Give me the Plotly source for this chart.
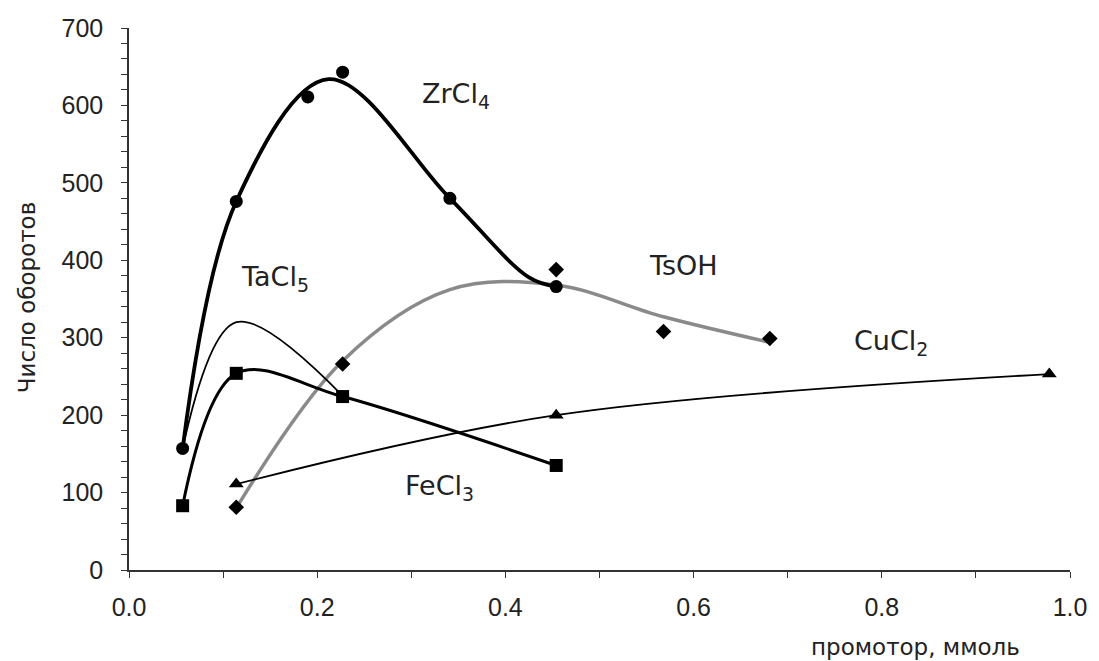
import plotly.graph_objects as go

# ---- data ----
ZR_X = [0.057, 0.114, 0.19, 0.227, 0.341, 0.454]
ZR_Y = [157, 476, 611, 643, 480, 366]
ZR_CURVE_X = [0.057, 0.114, 0.212, 0.341, 0.425, 0.454]
ZR_CURVE_Y = [157, 476, 634, 480, 378, 366]

TA_X = [0.057, 0.114, 0.227]
TA_Y = [157, 320, 225]

FE_X = [0.057, 0.114, 0.227, 0.454]
FE_Y = [83, 254, 224, 135]

CU_X = [0.114, 0.454, 0.978]
CU_Y = [111, 200, 253]

TS_X = [0.114, 0.227, 0.454, 0.568, 0.681]
TS_Y = [81, 266, 388, 308, 299]
TS_CURVE_X = [0.114, 0.227, 0.341, 0.454, 0.568, 0.681]
TS_CURVE_Y = [80, 270, 362, 368, 327, 294]

LABELS = ["ZrCl<sub>4</sub>", "TaCl<sub>5</sub>", "TsOH", "CuCl<sub>2</sub>", "FeCl<sub>3</sub>"]
LABEL_X = [0.309, 0.117, 0.551, 0.768, 0.291]
LABEL_Y = [613, 376, 393, 294, 106]

X_TITLE = "промотор, ммоль"
Y_TITLE = "Число оборотов"

FONT = "Liberation Sans, Arial, sans-serif"
WIDE = "DejaVu Sans, Liberation Sans, sans-serif"

fig = go.Figure()

# TsOH gray smoothed curve
fig.add_trace(go.Scatter(x=TS_CURVE_X, y=TS_CURVE_Y, mode="lines",
                         line=dict(color="#8a8a8a", width=3.5, shape="spline"),
                         hoverinfo="skip"))
# CuCl2
fig.add_trace(go.Scatter(x=CU_X, y=CU_Y, mode="lines+markers",
                         line=dict(color="black", width=1.8, shape="spline"),
                         marker=dict(symbol="triangle-up", size=13, color="black")))
# TaCl5 thin line
fig.add_trace(go.Scatter(x=TA_X, y=TA_Y, mode="lines",
                         line=dict(color="black", width=1.8, shape="spline")))
# FeCl3
fig.add_trace(go.Scatter(x=FE_X, y=FE_Y, mode="lines+markers",
                         line=dict(color="black", width=3, shape="spline"),
                         marker=dict(symbol="square", size=13, color="black")))
# ZrCl4 curve
fig.add_trace(go.Scatter(x=ZR_CURVE_X, y=ZR_CURVE_Y, mode="lines",
                         line=dict(color="black", width=3.8, shape="spline", smoothing=1.0)))
# ZrCl4 markers
fig.add_trace(go.Scatter(x=ZR_X, y=ZR_Y, mode="markers",
                         marker=dict(symbol="circle", size=13, color="black")))
# TsOH markers
fig.add_trace(go.Scatter(x=TS_X, y=TS_Y, mode="markers",
                         marker=dict(symbol="diamond", size=12, color="black")))

for t, x, y in zip(LABELS, LABEL_X, LABEL_Y):
    fig.add_annotation(x=x, y=y, text=t, showarrow=False, xanchor="left",
                       yanchor="middle", font=dict(size=27, color="#222", family=WIDE))

fig.add_annotation(x=0.949, y=-0.142, xref="paper", yref="paper", text=X_TITLE,
                   showarrow=False, xanchor="right", yanchor="middle",
                   font=dict(size=23, color="#222", family=WIDE))
fig.add_annotation(x=-0.1075, y=0.503, xref="paper", yref="paper", text=Y_TITLE,
                   showarrow=False, textangle=-90, xanchor="center", yanchor="middle",
                   font=dict(size=23, color="#222", family=WIDE))

fig.update_layout(
    width=1099, height=661,
    margin=dict(l=129, r=21, t=28, b=91),
    paper_bgcolor="white", plot_bgcolor="white",
    showlegend=False,
    font=dict(family=FONT, color="#222"),
    xaxis=dict(range=[0, 1.0], dtick=0.2, tick0=0, tickformat=".1f",
               showgrid=False, zeroline=False, showline=True, linecolor="#333",
               linewidth=1.5, ticks="outside", ticklen=6, tickcolor="#333",
               ticklabelstandoff=8,
               tickfont=dict(size=25, family=FONT, color="#222"),
               minor=dict(dtick=0.1, ticks="outside", ticklen=6, tickcolor="#333")),
    yaxis=dict(range=[0, 700], dtick=100, tick0=0,
               showgrid=False, zeroline=False, showline=True, linecolor="#333",
               linewidth=1.5, ticks="outside", ticklen=6, tickcolor="#333",
               ticklabelstandoff=13,
               tickfont=dict(size=25, family=FONT, color="#222"),
               minor=dict(dtick=20, ticks="outside", ticklen=6, tickcolor="#333")),
)

fig.write_html("out.html")
